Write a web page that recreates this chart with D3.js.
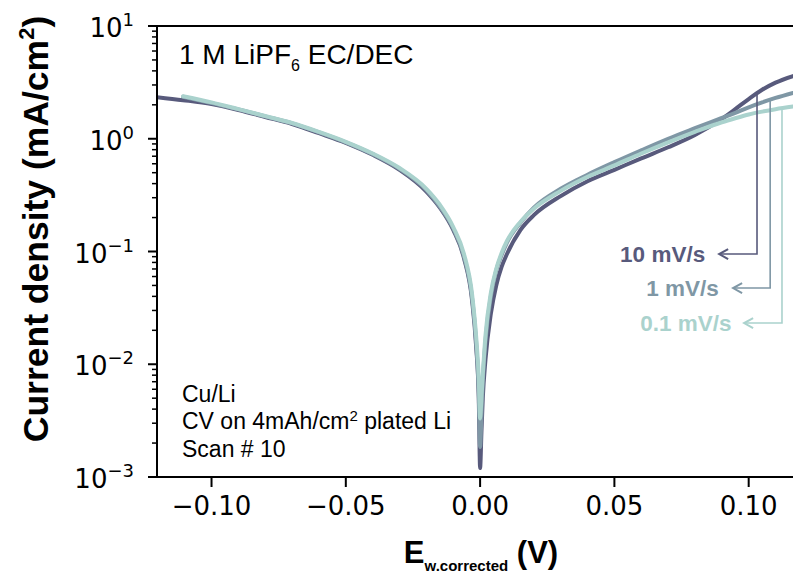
<!DOCTYPE html>
<html>
<head>
<meta charset="utf-8">
<script src="https://cdn.jsdelivr.net/npm/d3@7"></script>
<style>
  body { margin: 0; background: #fff; }
  svg { display: block; }
</style>
</head>
<body>
<svg width="793" height="577"></svg>
<script>
// potential (V) and |current density| (mA/cm2) for scan #10 at three scan rates
var potential = [-0.1203, -0.1106, -0.10, -0.09, -0.08, -0.07, -0.06, -0.05, -0.04, -0.03,
  -0.02, -0.015, -0.01, -0.006, -0.003, -0.0015, -0.0005, 0,
  0.0005, 0.001, 0.002, 0.004, 0.006, 0.008, 0.01, 0.015, 0.02, 0.03, 0.04, 0.05,
  0.06, 0.07, 0.08, 0.09, 0.095, 0.10, 0.105, 0.11, 0.1165];

var i10 = [2.34, 2.2, 2.03, 1.80, 1.56, 1.35, 1.12, 0.92, 0.72, 0.53,
  0.34, 0.245, 0.155, 0.087, 0.037, 0.0146, 0.005, 0.0012,
  0.0025, 0.005, 0.011, 0.028, 0.05, 0.073, 0.095, 0.155, 0.21, 0.31, 0.42, 0.53,
  0.67, 0.84, 1.08, 1.5, 1.83, 2.25, 2.72, 3.15, 3.6];

var i1 = [null, 2.36, 2.07, 1.82, 1.58, 1.37, 1.14, 0.93, 0.73, 0.54,
  0.35, 0.25, 0.16, 0.09, 0.039, 0.016, 0.0055, 0.00185,
  0.0035, 0.007, 0.016, 0.04, 0.068, 0.093, 0.12, 0.18, 0.245, 0.36, 0.48, 0.62,
  0.79, 1.0, 1.24, 1.53, 1.7, 1.9, 2.1, 2.3, 2.55];

var i01 = [null, 2.38, 2.1, 1.83, 1.59, 1.38, 1.15, 0.94, 0.74, 0.55,
  0.36, 0.26, 0.165, 0.095, 0.042, 0.018, 0.0075, 0.0033,
  0.005, 0.008, 0.018, 0.043, 0.07, 0.097, 0.124, 0.183, 0.24, 0.345, 0.46, 0.58,
  0.74, 0.93, 1.15, 1.4, 1.52, 1.64, 1.74, 1.83, 1.93];

var rates = ["10 mV/s", "1 mV/s", "0.1 mV/s"];
var xTicks = [-0.10, -0.05, 0.00, 0.05, 0.10];
var yDecades = [-3, -2, -1, 0, 1];

// where the rate labels sit (data units)
var leadE = [0.1031, 0.108, 0.1124];
var labelI = [0.095, 0.0474, 0.0232];
var tipE = [0.089, 0.0942, 0.0983];
var textE = [0.0838, 0.0889, 0.0936];

var colors = ["#585a7c", "#7f97a5", "#aad2cd"];
var series = [i10, i1, i01];

var svg = d3.select("svg");
var pLeft = 157, pRight = 793, pTop = 26, pBottom = 477;

var x = d3.scaleLinear().domain([-0.1203, 0.1165]).range([pLeft, pRight]);
var y = d3.scaleLog().domain([1e-3, 10]).range([pBottom, pTop]);

svg.append("defs").append("clipPath").attr("id", "clip")
  .append("rect").attr("x", pLeft).attr("y", pTop)
  .attr("width", pRight - pLeft).attr("height", pBottom - pTop);

// curves
var line = d3.line()
  .defined(function(d) { return d[1] != null; })
  .x(function(d) { return x(d[0]); })
  .y(function(d) { return y(d[1]); })
  .curve(d3.curveMonotoneX);

var plot = svg.append("g").attr("clip-path", "url(#clip)");
series.forEach(function(s, k) {
  plot.append("path")
    .datum(potential.map(function(e, j) { return [e, s[j]]; }))
    .attr("d", line)
    .attr("fill", "none")
    .attr("stroke", colors[k])
    .attr("stroke-width", 4)
    .attr("stroke-linejoin", "round")
    .attr("stroke-linecap", "round");
});

// value of a series at potential e (log interpolation)
function valueAt(s, e) {
  for (var j = 0; j < potential.length - 1; j++) {
    if (e >= potential[j] && e <= potential[j + 1] && s[j] != null) {
      var t = (e - potential[j]) / (potential[j + 1] - potential[j]);
      return Math.exp(Math.log(s[j]) * (1 - t) + Math.log(s[j + 1]) * t);
    }
  }
  return s[s.length - 1];
}

// rate labels with leader arrows
rates.forEach(function(r, k) {
  var xl = x(leadE[k]), y0 = y(valueAt(series[k], leadE[k])), yl = y(labelI[k]);
  var xt = x(tipE[k]);
  svg.append("path")
    .attr("d", "M" + xl + "," + y0 + "V" + yl + "H" + xt)
    .attr("fill", "none").attr("stroke", colors[k]).attr("stroke-width", 1.6);
  svg.append("path")
    .attr("d", "M" + (xt + 9) + "," + (yl - 5) + "L" + xt + "," + yl + "L" + (xt + 9) + "," + (yl + 5))
    .attr("fill", "none").attr("stroke", colors[k]).attr("stroke-width", 2);
  svg.append("text")
    .attr("x", x(textE[k])).attr("y", yl + 8)
    .attr("text-anchor", "end")
    .attr("font-family", "Liberation Sans, Arial, sans-serif")
    .attr("font-weight", "bold").attr("font-size", 22.5)
    .attr("fill", colors[k])
    .text(r);
});

// spines
var axisG = svg.append("g").attr("stroke", "#000").attr("stroke-width", 2);
axisG.append("line").attr("x1", pLeft).attr("x2", pRight).attr("y1", pTop).attr("y2", pTop);
axisG.append("line").attr("x1", pLeft).attr("x2", pRight).attr("y1", pBottom).attr("y2", pBottom);
axisG.append("line").attr("x1", pLeft).attr("x2", pLeft).attr("y1", pTop - 1).attr("y2", pBottom + 1);

// x ticks
xTicks.forEach(function(t) {
  svg.append("line").attr("x1", x(t)).attr("x2", x(t))
    .attr("y1", pBottom).attr("y2", pBottom + 10)
    .attr("stroke", "#000").attr("stroke-width", 2);
  svg.append("text")
    .attr("x", x(t)).attr("y", pBottom + 38)
    .attr("text-anchor", "middle")
    .attr("font-family", "DejaVu Sans, sans-serif").attr("font-size", 26)
    .text(d3.format(".2f")(t).replace("-", "\u2212"));
});

// y ticks (log)
yDecades.forEach(function(p) {
  var v = Math.pow(10, p);
  svg.append("line").attr("x1", pLeft - 9).attr("x2", pLeft)
    .attr("y1", y(v)).attr("y2", y(v))
    .attr("stroke", "#000").attr("stroke-width", 2);
  var lab = svg.append("text")
    .attr("x", 134).attr("y", y(v) + 11)
    .attr("text-anchor", "end")
    .attr("font-family", "DejaVu Sans, sans-serif").attr("font-size", 26);
  lab.append("tspan").text("10");
  lab.append("tspan").attr("font-size", 18).attr("dy", -11)
    .text(String(p).replace("-", "\u2212"));
  if (p < 1) {
    for (var m = 2; m <= 9; m++) {
      svg.append("line").attr("x1", pLeft - 5).attr("x2", pLeft)
        .attr("y1", y(m * v)).attr("y2", y(m * v))
        .attr("stroke", "#000").attr("stroke-width", 1.5);
    }
  }
});

// axis titles
var yTitle = svg.append("text")
  .attr("transform", "translate(48,229) rotate(-90)")
  .attr("text-anchor", "middle")
  .attr("font-family", "Liberation Sans, Arial, sans-serif")
  .attr("font-weight", "bold").attr("font-size", 35.5);
yTitle.append("tspan").text("Current density (mA/cm");
yTitle.append("tspan").attr("font-size", 22).attr("dy", -14).text("2");
yTitle.append("tspan").attr("dy", 14).text(")");

var xTitle = svg.append("text")
  .attr("x", 481).attr("y", 563)
  .attr("text-anchor", "middle")
  .attr("font-family", "Liberation Sans, Arial, sans-serif")
  .attr("font-weight", "bold").attr("font-size", 31);
xTitle.append("tspan").text("E");
xTitle.append("tspan").attr("font-size", 15).attr("dy", 8).text("w.corrected");
xTitle.append("tspan").attr("dy", -8).text(" (V)");

// annotations
var t1 = svg.append("text").attr("x", 179).attr("y", 64)
  .attr("font-family", "Liberation Sans, Arial, sans-serif").attr("font-size", 28);
t1.append("tspan").text("1 M LiPF");
t1.append("tspan").attr("font-size", 16).attr("dy", 7).text("6");
t1.append("tspan").attr("dy", -7).text(" EC/DEC");

var notes = svg.append("text")
  .attr("font-family", "Liberation Sans, Arial, sans-serif").attr("font-size", 23);
notes.append("tspan").attr("x", 182).attr("y", 402).text("Cu/Li");
var n2 = notes.append("tspan").attr("x", 182).attr("y", 429);
n2.append("tspan").text("CV on 4mAh/cm");
n2.append("tspan").attr("font-size", 15).attr("dy", -8).text("2");
n2.append("tspan").attr("dy", 8).text(" plated Li");
notes.append("tspan").attr("x", 182).attr("y", 457).text("Scan # 10");
</script>
</body>
</html>
